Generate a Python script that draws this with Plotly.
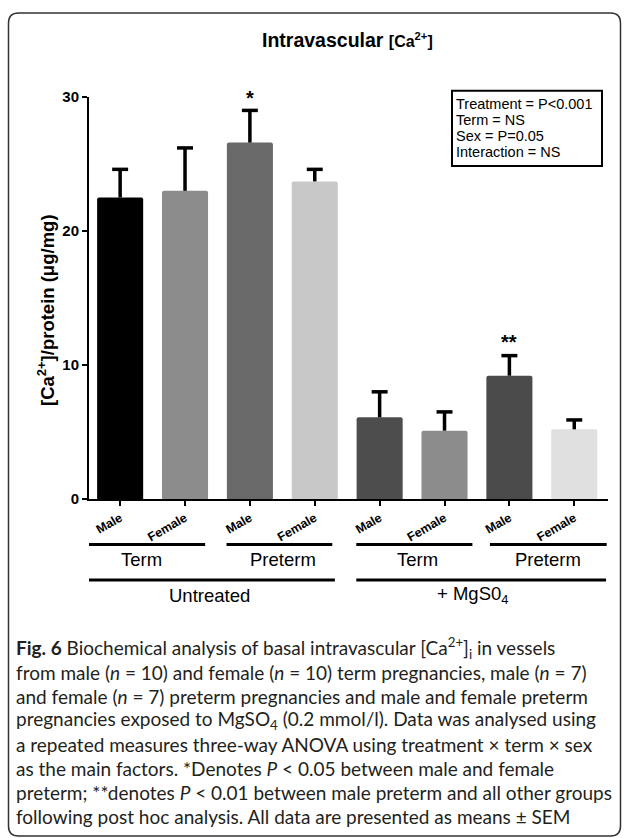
import plotly.graph_objects as go

# ---------------- data ----------------
categories = ["Male", "Female", "Male", "Female", "Male", "Female", "Male", "Female"]
means = [22.5, 23.0, 26.6, 23.7, 6.1, 5.1, 9.2, 5.2]
sem = [2.1, 3.2, 2.4, 0.9, 1.9, 1.4, 1.5, 0.7]
bar_colors = ["#000000", "#8c8c8c", "#696969", "#c8c8c8",
              "#4d4d4d", "#8c8c8c", "#4b4b4b", "#e0e0e0"]
y_ticks = [0, 10, 20, 30]
significance = {2: "*", 6: "**"}
stats_lines = ["Treatment = P<0.001", "Term = NS", "Sex = P=0.05", "Interaction = NS"]
term_labels = ["Term", "Preterm", "Term", "Preterm"]
treatment_labels = ["Untreated", "+ MgS0<sub>4</sub>"]
caption_lines = [
    "<b>Fig. 6</b> Biochemical analysis of basal intravascular [Ca<sup>2+</sup>]<sub>i</sub> in vessels",
    "from male (<i>n</i> = 10) and female (<i>n</i> = 10) term pregnancies, male (<i>n</i> = 7)",
    "and female (<i>n</i> = 7) preterm pregnancies and male and female preterm",
    "pregnancies exposed to MgSO<sub>4</sub> (0.2 mmol/l). Data was analysed using",
    "a repeated measures three-way ANOVA using treatment \u00d7 term \u00d7 sex",
    "as the main factors. *Denotes <i>P</i> < 0.05 between male and female",
    "preterm; **denotes <i>P</i> < 0.01 between male preterm and all other groups",
    "following post hoc analysis. All data are presented as means \u00b1 SEM",
]

# ---------------- layout geometry (pixels) ----------------
W, H = 629, 838
PL, PR, PT, PB = 89, 608, 97, 499


def px(x):
    return (x - PL) / (PR - PL)


def py(y):
    return (PB - y) / (PB - PT)


# group line extents in x-axis units (layout)
term_spans = [(-0.51, 1.31, 0.33), (1.64, 3.27, 2.51), (3.64, 5.43, 4.59), (5.70, 7.50, 6.59)]
treat_spans = [(-0.51, 3.31, 1.37), (3.64, 7.49, 5.43)]

FONT = "Liberation Sans, Arial, sans-serif"
CAP_HALF = 0.123  # half cap width in x units (style)

x_idx = list(range(len(categories)))

fig = go.Figure()
fig.add_trace(go.Bar(
    x=x_idx, y=means, width=0.71,
    marker=dict(color=bar_colors, line=dict(width=0), cornerradius=2),
    hoverinfo="skip",
))

# upward-only error bars (stem + top cap)
ex, ey = [], []
for i, (m, s) in enumerate(zip(means, sem)):
    ex += [i, i, None, i - CAP_HALF, i + CAP_HALF, None]
    ey += [m, m + s, None, m + s, m + s, None]
fig.add_trace(go.Scatter(x=ex, y=ey, mode="lines",
                         line=dict(color="black", width=3.5), hoverinfo="skip"))

annotations = []
shapes = []

# title
annotations.append(dict(
    xref="paper", yref="paper", x=px(347), y=py(40), xanchor="center", yanchor="middle",
    text="<b>Intravascular</b> <b><span style='font-size:16px'>[Ca<sup>2+</sup>]</span></b>",
    showarrow=False, font=dict(family=FONT, size=19.5, color="black")))

# y axis title
annotations.append(dict(
    xref="paper", yref="paper", x=px(46), y=py(310), xanchor="center", yanchor="middle",
    text="<b>[Ca<sup>2+</sup>]/protein (\u03bcg/mg)</b>", textangle=-90,
    showarrow=False, font=dict(family=FONT, size=18.5, color="black")))

# significance stars
for i, s in significance.items():
    annotations.append(dict(
        x=i, y=means[i] + sem[i], xref="x", yref="y", yanchor="bottom",
        yshift=-1 if s == "*" else 1,
        text="<b>%s</b>" % s, showarrow=False,
        font=dict(family=FONT, size=20, color="black")))

# stats box
shapes.append(dict(type="rect", xref="paper", yref="paper",
                   x0=px(452), x1=px(602), y0=py(166), y1=py(90.7),
                   line=dict(color="black", width=2), fillcolor="rgba(0,0,0,0)"))
for k, line in enumerate(stats_lines):
    annotations.append(dict(
        xref="paper", yref="paper", x=px(454), y=py(104 + 15.9 * k),
        xanchor="left", yanchor="middle", text=line, showarrow=False,
        font=dict(family=FONT, size=14.5, color="black")))

# group lines and labels
for (a, b, c), lab in zip(term_spans, term_labels):
    shapes.append(dict(type="line", xref="x", yref="paper", x0=a, x1=b,
                       y0=py(544.5), y1=py(544.5), line=dict(color="black", width=3)))
    annotations.append(dict(xref="x", yref="paper", x=c, y=py(559), xanchor="center",
                            yanchor="middle", text=lab, showarrow=False,
                            font=dict(family=FONT, size=18.5, color="black")))
for (a, b, c), lab in zip(treat_spans, treatment_labels):
    shapes.append(dict(type="line", xref="x", yref="paper", x0=a, x1=b,
                       y0=py(580), y1=py(580), line=dict(color="black", width=3)))
    annotations.append(dict(xref="x", yref="paper", x=c, y=py(595), xanchor="center",
                            yanchor="middle", text=lab, showarrow=False,
                            font=dict(family=FONT, size=18.5, color="black")))

# caption
for k, line in enumerate(caption_lines):
    annotations.append(dict(
        xref="paper", yref="paper", x=px(14), y=py(648 + 24 * k),
        xanchor="left", yanchor="middle", text=line, showarrow=False,
        font=dict(family="Lato, sans-serif", size=19, color="#231f20")))

# outer rounded frame
x0, x1, y0, y1 = px(8.5), px(620.5), py(13), py(836)
rx, ry = 10 / (PR - PL), 10 / (PB - PT)
path = (f"M {x0 + rx} {y0} L {x1 - rx} {y0} Q {x1} {y0} {x1} {y0 - ry} "
        f"L {x1} {y1 + ry} Q {x1} {y1} {x1 - rx} {y1} L {x0 + rx} {y1} "
        f"Q {x0} {y1} {x0} {y1 + ry} L {x0} {y0 - ry} Q {x0} {y0} {x0 + rx} {y0} Z")
shapes.append(dict(type="path", xref="paper", yref="paper", path=path,
                   line=dict(color="#333333", width=1.5)))

fig.update_layout(
    width=W, height=H,
    margin=dict(l=PL, r=W - PR, t=PT, b=H - PB, pad=0),
    plot_bgcolor="white", paper_bgcolor="white",
    showlegend=False,
    annotations=annotations, shapes=shapes,
    xaxis=dict(range=[-0.48, 7.52], tickvals=x_idx,
               ticktext=["<b>%s</b>" % c for c in categories],
               tickangle=-30, ticks="outside", ticklen=5, tickwidth=2, tickcolor="black",
               showline=True, linewidth=2, linecolor="black", showgrid=False, zeroline=False,
               tickfont=dict(family=FONT, size=12.5, color="black")),
    yaxis=dict(range=[0, 30], tickvals=y_ticks, ticktext=["<b>%d</b>" % v for v in y_ticks],
               ticks="outside", ticklen=5, tickwidth=2,
               tickcolor="black", showline=True, linewidth=2, linecolor="black",
               showgrid=False, zeroline=False, ticklabelstandoff=0,
               tickfont=dict(family=FONT, size=15, color="black")),
)

fig.write_html("out.html", config={"displayModeBar": False},
               post_script="document.body.style.margin='0px';")
